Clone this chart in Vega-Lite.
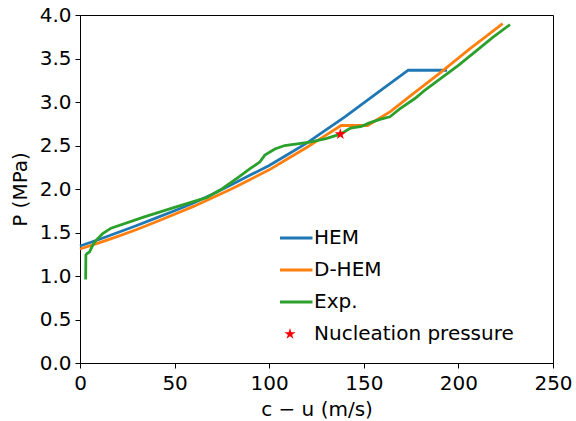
{
  "$schema": "https://vega.github.io/schema/vega-lite/v6.json",
  "width": 473,
  "height": 348,
  "autosize": "none",
  "padding": {"left": 80, "top": 15, "right": 23, "bottom": 58},
  "config": {
    "font": "DejaVu Sans",
    "view": {"stroke": "black", "strokeWidth": 1},
    "axis": {
      "grid": false,
      "domainColor": "black",
      "tickColor": "black",
      "tickSize": 5,
      "labelColor": "black",
      "labelFontSize": 20,
      "labelFlush": false,
      "titleColor": "black",
      "titleFontSize": 20,
      "titleFontWeight": "normal"
    }
  },
  "datasets": {
    "curves": [
      {"series": "HEM", "cu": 0, "P": 1.345},
      {"series": "HEM", "cu": 10, "P": 1.42},
      {"series": "HEM", "cu": 20, "P": 1.5},
      {"series": "HEM", "cu": 30, "P": 1.58},
      {"series": "HEM", "cu": 40, "P": 1.665},
      {"series": "HEM", "cu": 50, "P": 1.75},
      {"series": "HEM", "cu": 60, "P": 1.84},
      {"series": "HEM", "cu": 70, "P": 1.94},
      {"series": "HEM", "cu": 80, "P": 2.05},
      {"series": "HEM", "cu": 90, "P": 2.16},
      {"series": "HEM", "cu": 100, "P": 2.27},
      {"series": "HEM", "cu": 110, "P": 2.4},
      {"series": "HEM", "cu": 120, "P": 2.53},
      {"series": "HEM", "cu": 130, "P": 2.68},
      {"series": "HEM", "cu": 140, "P": 2.83},
      {"series": "HEM", "cu": 150, "P": 2.99},
      {"series": "HEM", "cu": 160, "P": 3.15},
      {"series": "HEM", "cu": 173.5, "P": 3.365},
      {"series": "HEM", "cu": 194, "P": 3.365},
      {"series": "D-HEM", "cu": 0, "P": 1.31},
      {"series": "D-HEM", "cu": 10, "P": 1.38},
      {"series": "D-HEM", "cu": 20, "P": 1.455},
      {"series": "D-HEM", "cu": 30, "P": 1.535},
      {"series": "D-HEM", "cu": 40, "P": 1.62},
      {"series": "D-HEM", "cu": 50, "P": 1.71},
      {"series": "D-HEM", "cu": 60, "P": 1.8},
      {"series": "D-HEM", "cu": 70, "P": 1.9},
      {"series": "D-HEM", "cu": 80, "P": 2.0},
      {"series": "D-HEM", "cu": 90, "P": 2.11},
      {"series": "D-HEM", "cu": 100, "P": 2.22},
      {"series": "D-HEM", "cu": 110, "P": 2.35},
      {"series": "D-HEM", "cu": 120, "P": 2.48},
      {"series": "D-HEM", "cu": 130, "P": 2.62},
      {"series": "D-HEM", "cu": 138, "P": 2.73},
      {"series": "D-HEM", "cu": 152, "P": 2.73},
      {"series": "D-HEM", "cu": 164, "P": 2.89},
      {"series": "D-HEM", "cu": 177, "P": 3.11},
      {"series": "D-HEM", "cu": 190, "P": 3.33},
      {"series": "D-HEM", "cu": 206, "P": 3.61},
      {"series": "D-HEM", "cu": 223.4, "P": 3.9},
      {"series": "Exp.", "cu": 3.0, "P": 0.96},
      {"series": "Exp.", "cu": 3.1, "P": 1.24},
      {"series": "Exp.", "cu": 3.7, "P": 1.257},
      {"series": "Exp.", "cu": 5.0, "P": 1.276},
      {"series": "Exp.", "cu": 6.7, "P": 1.353},
      {"series": "Exp.", "cu": 8.5, "P": 1.41},
      {"series": "Exp.", "cu": 12.0, "P": 1.487},
      {"series": "Exp.", "cu": 16.4, "P": 1.55},
      {"series": "Exp.", "cu": 34, "P": 1.68},
      {"series": "Exp.", "cu": 51.7, "P": 1.8},
      {"series": "Exp.", "cu": 66.8, "P": 1.9},
      {"series": "Exp.", "cu": 75, "P": 2.0},
      {"series": "Exp.", "cu": 84, "P": 2.14},
      {"series": "Exp.", "cu": 89.7, "P": 2.23},
      {"series": "Exp.", "cu": 95, "P": 2.31},
      {"series": "Exp.", "cu": 97.7, "P": 2.39},
      {"series": "Exp.", "cu": 103, "P": 2.46},
      {"series": "Exp.", "cu": 108.2, "P": 2.5},
      {"series": "Exp.", "cu": 121.5, "P": 2.54},
      {"series": "Exp.", "cu": 130, "P": 2.58},
      {"series": "Exp.", "cu": 137.6, "P": 2.63},
      {"series": "Exp.", "cu": 143, "P": 2.7},
      {"series": "Exp.", "cu": 148.8, "P": 2.72},
      {"series": "Exp.", "cu": 153, "P": 2.76},
      {"series": "Exp.", "cu": 158.5, "P": 2.8},
      {"series": "Exp.", "cu": 163.8, "P": 2.83},
      {"series": "Exp.", "cu": 169, "P": 2.92},
      {"series": "Exp.", "cu": 177, "P": 3.04},
      {"series": "Exp.", "cu": 182, "P": 3.13},
      {"series": "Exp.", "cu": 190, "P": 3.26},
      {"series": "Exp.", "cu": 200, "P": 3.42},
      {"series": "Exp.", "cu": 209.6, "P": 3.59},
      {"series": "Exp.", "cu": 218, "P": 3.74},
      {"series": "Exp.", "cu": 227.3, "P": 3.89}
    ],
    "nucleation": [
      {"series": "Nucleation pressure", "cu": 137.6, "P": 2.63}
    ]
  },
  "layer": [
    {
      "data": {"name": "curves"},
      "mark": {"type": "line", "strokeWidth": 2.8},
      "encoding": {
        "x": {
          "field": "cu",
          "type": "quantitative",
          "scale": {"domain": [0, 250], "nice": false, "zero": false},
          "axis": {"values": [0, 50, 100, 150, 200, 250], "title": "c − u (m/s)", "labelPadding": 5, "titlePadding": 6}
        },
        "y": {
          "field": "P",
          "type": "quantitative",
          "scale": {"domain": [0, 4], "nice": false},
          "axis": {"values": [0, 0.5, 1, 1.5, 2, 2.5, 3, 3.5, 4], "format": ".1f", "title": "P (MPa)", "labelPadding": 4, "titlePadding": 9}
        },
        "color": {
          "field": "series",
          "type": "nominal",
          "sort": null,
          "scale": {
            "domain": ["HEM", "D-HEM", "Exp.", "Nucleation pressure"],
            "range": ["#1f77b4", "#ff7f0e", "#2ca02c", "#ff0000"]
          },
          "legend": {
            "title": null,
            "orient": "none",
            "legendX": 200,
            "legendY": 213,
            "padding": 0,
            "labelFontSize": 20,
            "labelColor": "black",
            "labelLimit": 0,
            "labelOffset": 14,
            "rowPadding": 12,
            "clipHeight": 20,
            "symbolType": "stroke",
            "symbolSize": 2025,
            "symbolStrokeWidth": 3,
            "encode": {
              "symbols": {
                "update": {
                  "shape": {"signal": "datum.value === 'Nucleation pressure' ? 'M0,-1L0.2245,-0.309L0.951,-0.309L0.363,0.118L0.588,0.809L0,0.382L-0.588,0.809L-0.363,0.118L-0.951,-0.309L-0.2245,-0.309Z' : 'stroke'"},
                  "size": {"signal": "datum.value === 'Nucleation pressure' ? 140 : 2025"},
                  "fill": {"signal": "datum.value === 'Nucleation pressure' ? '#ff0000' : 'transparent'"},
                  "strokeWidth": {"signal": "datum.value === 'Nucleation pressure' ? 0 : 3"},
                  "opacity": {"value": 1}
                }
              }
            }
          }
        }
      }
    },
    {
      "data": {"name": "nucleation"},
      "mark": {
        "type": "point",
        "shape": "M0,-1L0.2245,-0.309L0.951,-0.309L0.363,0.118L0.588,0.809L0,0.382L-0.588,0.809L-0.363,0.118L-0.951,-0.309L-0.2245,-0.309Z",
        "filled": true,
        "size": 140,
        "opacity": 1
      },
      "encoding": {
        "x": {"field": "cu", "type": "quantitative", "scale": {"domain": [0, 250], "nice": false, "zero": false}},
        "y": {"field": "P", "type": "quantitative", "scale": {"domain": [0, 4], "nice": false}},
        "color": {"field": "series", "type": "nominal"}
      }
    }
  ]
}
